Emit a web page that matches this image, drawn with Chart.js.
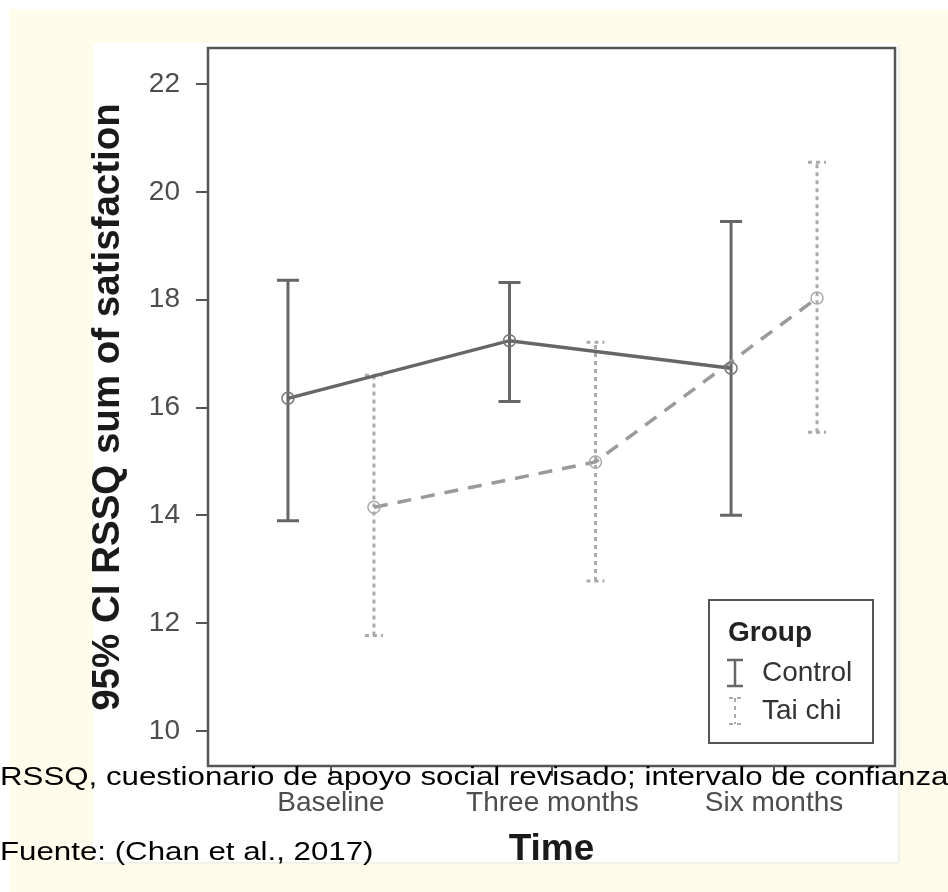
<!DOCTYPE html>
<html>
<head>
<meta charset="utf-8">
<script src="https://cdn.jsdelivr.net/npm/chart.js@4.4.1/dist/chart.umd.min.js"></script>
<style>
    body { margin: 0; width: 948px; height: 892px; background: #fff; overflow: hidden; position: relative; font-family: "Liberation Sans", Arial, sans-serif; }
    .page { position: absolute; left: 9px; top: 9px; right: 0; bottom: 0; background: #fffcec; }
    .figura { position: absolute; left: 93px; top: 43px; width: 805px; height: 819px; background: #fff; box-shadow: 1px 1px 2px #e6e6e6; }
    #grafico { position: absolute; left: 0; top: 0; }
    .nota { position: absolute; left: 0; font-size: 25px; line-height: 25px; color: #000; white-space: nowrap; transform: scaleX(1.25); transform-origin: left center; }
</style>
</head>
<body>
<div class="page"></div>
<div class="figura"></div>
<canvas id="grafico" width="948" height="892"></canvas>
<div class="nota" style="top:764px">RSSQ, cuestionario de apoyo social revisado; intervalo de confianza</div>
<div class="nota" style="top:839px">Fuente: (Chan et al., 2017)</div>
<script>
// Dados
const categorias = ["Baseline", "Three months", "Six months"];
const controleMedia = [16.17, 17.24, 16.73];
const controleInf = [13.9, 16.11, 14.0];
const controleSup = [18.36, 18.32, 19.45];
const taiChiMedia = [14.15, 14.99, 18.03];
const taiChiInf = [11.77, 12.78, 15.54];
const taiChiSup = [16.6, 17.21, 20.55];
const ticksY = [10, 12, 14, 16, 18, 20, 22];
const deslocamento = 0.194; // separa os dois grupos em cada momento

const fonte = '"Liberation Sans", Arial, sans-serif';

function pontos(medias, lado) {
    return medias.map((v, i) => ({ x: i + 1 + lado * deslocamento, y: v }));
}

// Barras de erro (IC 95%)
const barrasErro = {
    id: "barrasErro",
    beforeDatasetsDraw(chart) {
        const { ctx, scales } = chart;
        chart.data.datasets.forEach((ds) => {
            ctx.save();
            ctx.strokeStyle = ds.corBarra;
            ctx.lineWidth = ds.larguraBarra;
            ctx.setLineDash(ds.tracoBarra);
            ds.data.forEach((p, i) => {
                const x = scales.x.getPixelForValue(p.x);
                const y1 = scales.y.getPixelForValue(ds.inf[i]);
                const y2 = scales.y.getPixelForValue(ds.sup[i]);
                const c = ds.capa / 2;
                ctx.beginPath();
                ctx.moveTo(x, y1);
                ctx.lineTo(x, y2);
                ctx.moveTo(x - c, y1);
                ctx.lineTo(x + c, y1);
                ctx.moveTo(x - c, y2);
                ctx.lineTo(x + c, y2);
                ctx.stroke();
            });
            ctx.restore();
        });
    },
    afterDraw(chart) {
        const { ctx, chartArea: a } = chart;
        ctx.save();
        // moldura do gráfico
        ctx.strokeStyle = "#555";
        ctx.lineWidth = 2.5;
        ctx.strokeRect(a.left, a.top, a.right - a.left, a.bottom - a.top);

        // legenda
        const bx = a.right - 186, by = a.bottom - 166;
        ctx.fillStyle = "#fff";
        ctx.fillRect(bx, by, 164, 143);
        ctx.lineWidth = 2;
        ctx.strokeRect(bx, by, 164, 143);
        ctx.fillStyle = "#222";
        ctx.textBaseline = "middle";
        ctx.font = "bold 28px " + fonte;
        ctx.fillText("Group", bx + 19, by + 33);
        ctx.font = "28px " + fonte;
        chart.data.datasets.forEach((ds, i) => {
            const cy = by + 73 + i * 38;
            const cx = bx + 26;
            ctx.strokeStyle = ds.corBarra;
            ctx.lineWidth = i === 0 ? 2.5 : 2;
            ctx.setLineDash(ds.tracoBarra);
            const c = i === 0 ? 8 : 6;
            ctx.beginPath();
            ctx.moveTo(cx, cy - 13);
            ctx.lineTo(cx, cy + 13);
            ctx.moveTo(cx - c, cy - 13);
            ctx.lineTo(cx + c, cy - 13);
            ctx.moveTo(cx - c, cy + 13);
            ctx.lineTo(cx + c, cy + 13);
            ctx.stroke();
            ctx.setLineDash([]);
            ctx.fillStyle = "#333";
            ctx.fillText(ds.label, bx + 53, cy);
        });
        ctx.restore();
    },
};

new Chart(document.querySelector("#grafico"), {
    type: "line",
    data: {
        datasets: [
            {
                label: "Control",
                data: pontos(controleMedia, -1),
                inf: controleInf,
                sup: controleSup,
                borderColor: "#666",
                borderWidth: 3.5,
                pointRadius: 6,
                pointBorderWidth: 1.5,
                pointBorderColor: "#777",
                pointBackgroundColor: "rgba(0,0,0,0)",
                corBarra: "#666",
                larguraBarra: 3,
                tracoBarra: [],
                capa: 22,
            },
            {
                label: "Tai chi",
                data: pontos(taiChiMedia, 1),
                inf: taiChiInf,
                sup: taiChiSup,
                borderColor: "#9a9a9a",
                borderWidth: 3.5,
                borderDash: [14, 10],
                pointRadius: 6,
                pointBorderWidth: 1.5,
                pointBorderColor: "#aaa",
                pointBackgroundColor: "rgba(0,0,0,0)",
                corBarra: "#aaa",
                larguraBarra: 3,
                tracoBarra: [4, 4],
                capa: 18,
            },
        ],
    },
    options: {
        responsive: false,
        animation: false,
        layout: { padding: { top: 48, right: 53, left: 0, bottom: 0 } },
        plugins: { legend: { display: false }, tooltip: { enabled: false } },
        scales: {
            x: {
                type: "linear",
                min: 0.445,
                max: 3.546,
                afterBuildTicks: (s) => { s.ticks = categorias.map((c, i) => ({ value: i + 1 })); },
                afterFit: (s) => { s.height = 126; },
                ticks: {
                    callback: (v) => categorias[v - 1],
                    font: { family: fonte, size: 28 },
                    color: "#4d4d4d",
                    padding: 10,
                    maxRotation: 0,
                    autoSkip: false,
                },
                grid: { drawOnChartArea: false, tickLength: 10, color: "#555", lineWidth: 2 },
                border: { display: false },
                title: {
                    display: true,
                    text: "Time",
                    color: "#1a1a1a",
                    font: { family: fonte, size: 37, weight: "bold" },
                    padding: { top: 0, bottom: 20 },
                },
            },
            y: {
                min: 9.351,
                max: 22.668,
                afterBuildTicks: (s) => { s.ticks = ticksY.map((v) => ({ value: v })); },
                afterFit: (s) => { s.width = 208; },
                ticks: {
                    font: { family: fonte, size: 28 },
                    color: "#4d4d4d",
                    padding: 16,
                },
                grid: { drawOnChartArea: false, tickLength: 12, color: "#555", lineWidth: 2 },
                border: { display: false },
                title: {
                    display: true,
                    text: "95% CI RSSQ sum of satisfaction",
                    color: "#1a1a1a",
                    font: { family: fonte, size: 38.5, weight: "bold" },
                    padding: { top: 85, bottom: 0 },
                },
            },
        },
    },
    plugins: [barrasErro],
});
</script>
</body>
</html>
